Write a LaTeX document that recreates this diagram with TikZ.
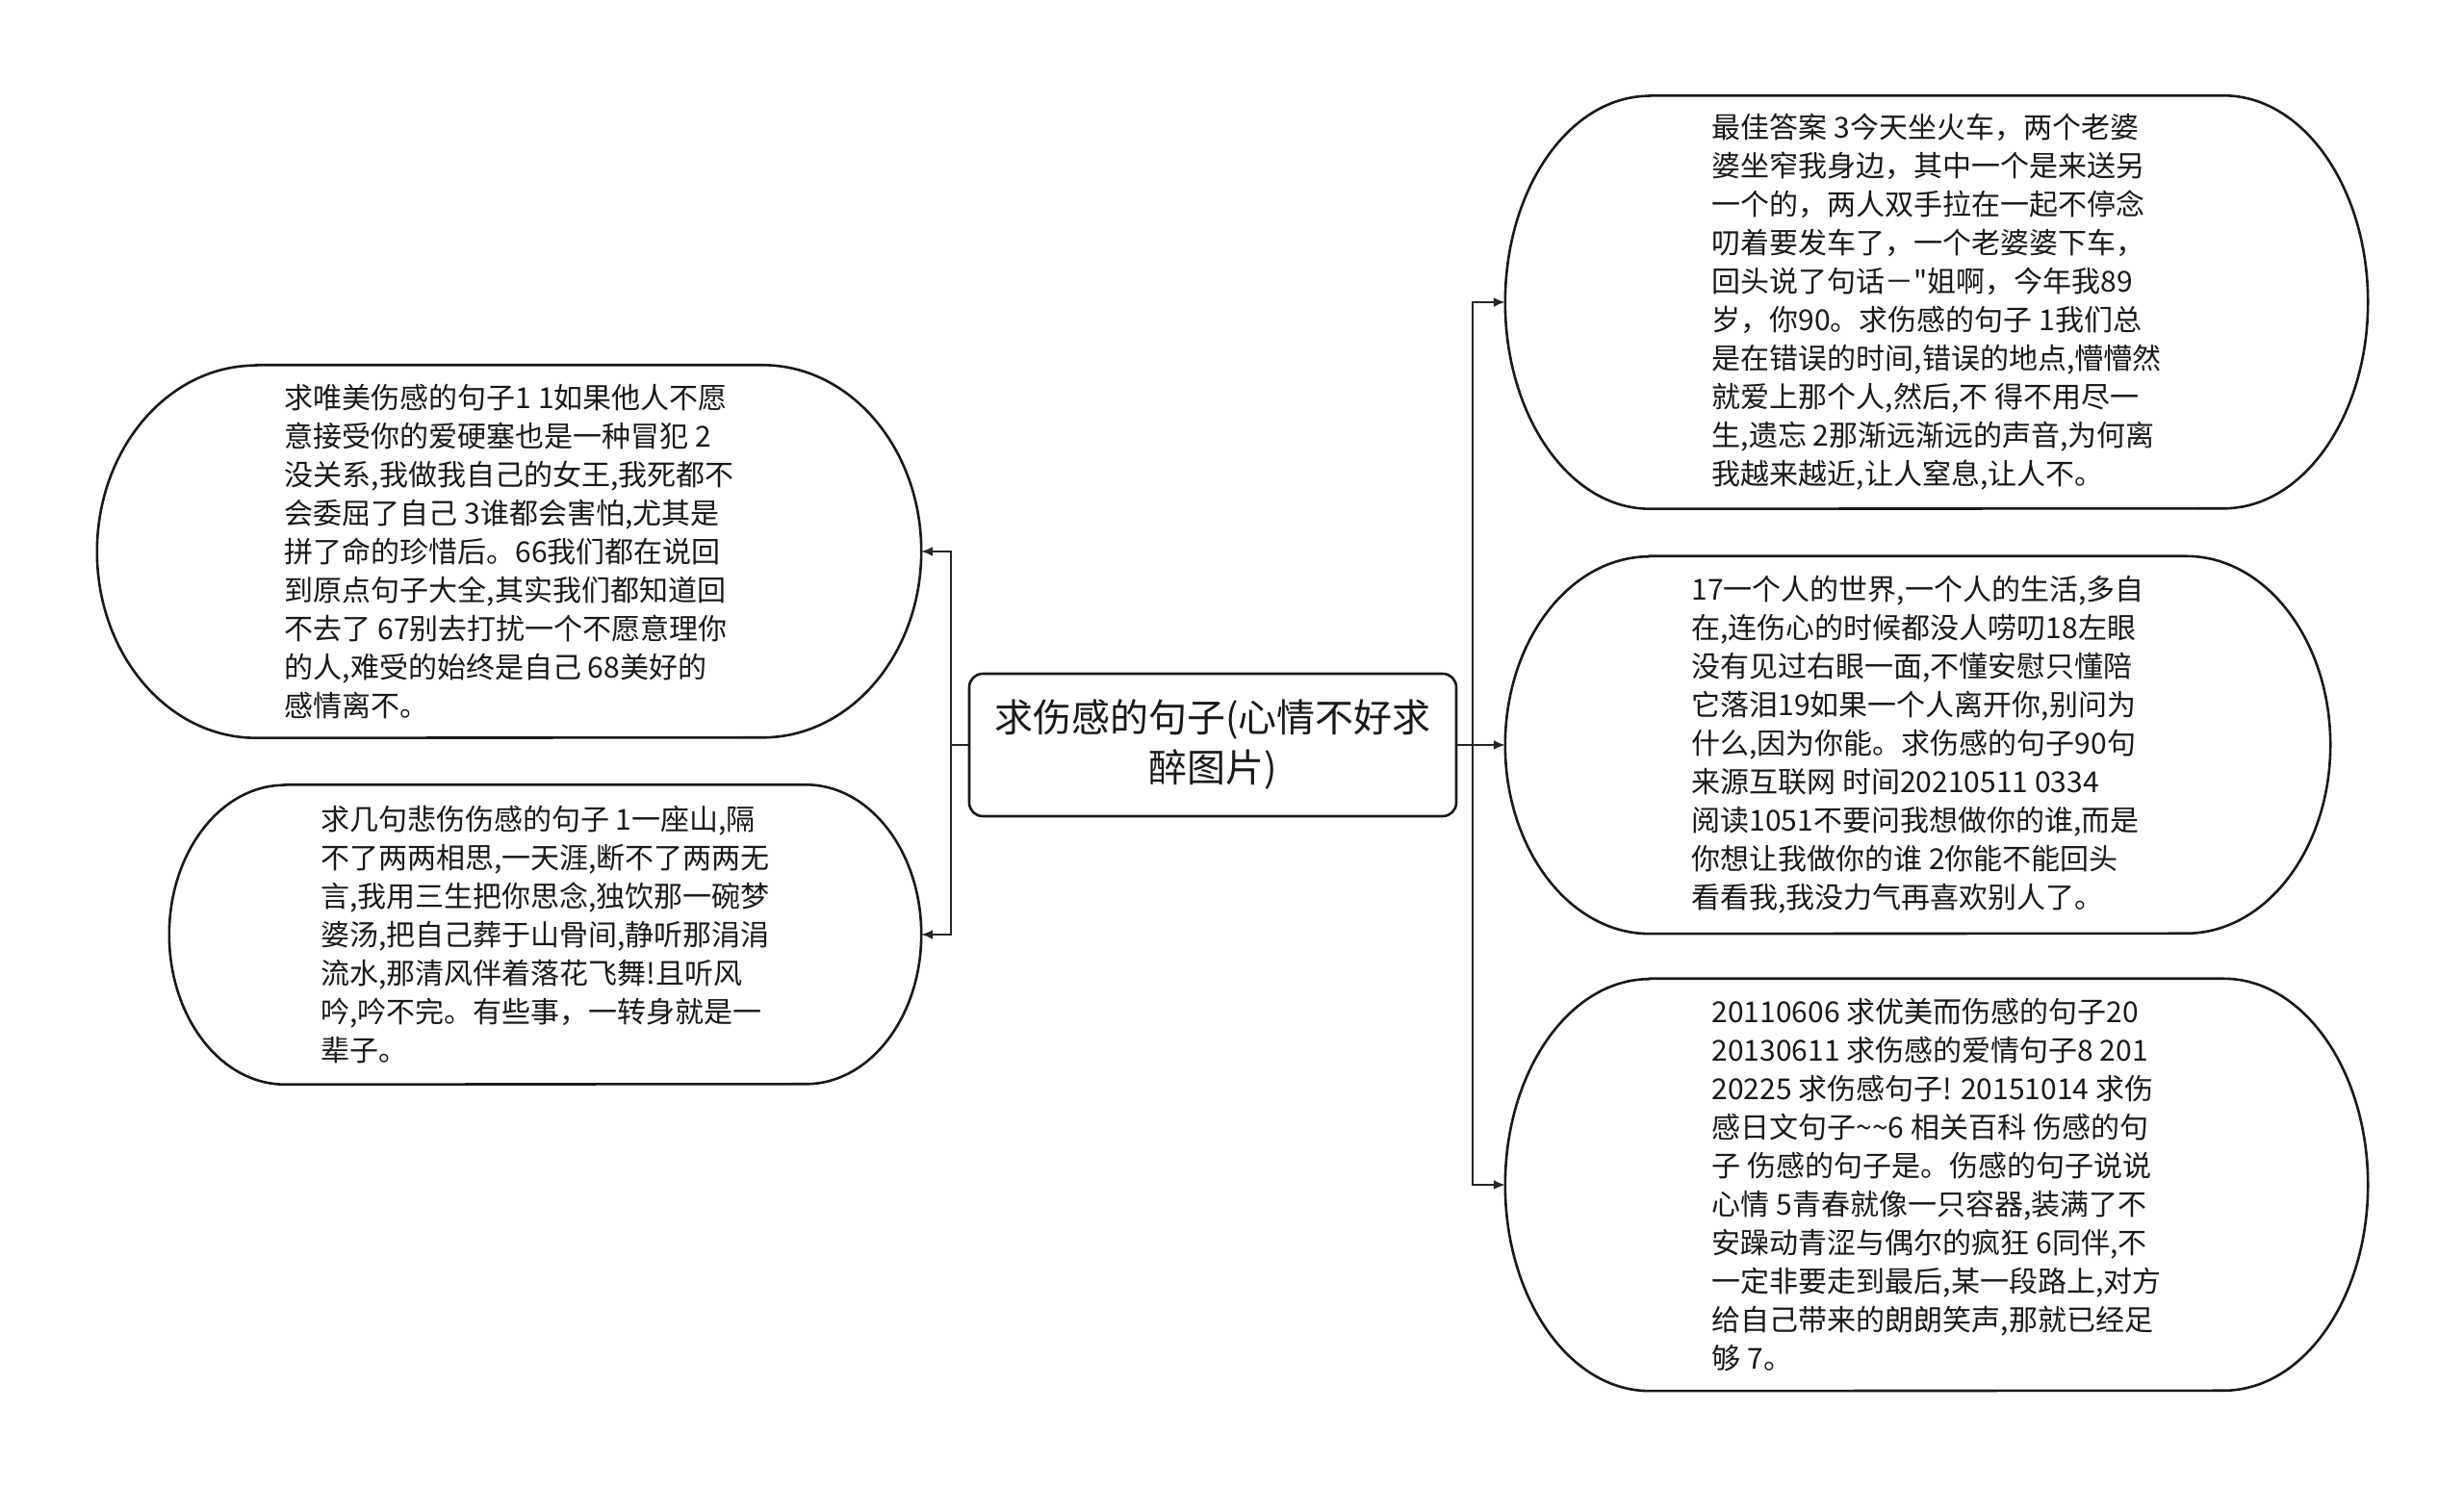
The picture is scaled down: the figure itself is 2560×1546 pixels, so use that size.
\documentclass[tikz,border=0pt]{standalone}
\usepackage{fontspec}
\setmainfont{Noto Sans CJK SC}[Ligatures=TeXOff]
\usetikzlibrary{arrows.meta,calc}
\tikzset{
 blobtext/.style={inner sep=0pt, align=left, font=\fontsize{30}{40}\selectfont, text=black!90},
 blobline/.style={line width=2.6pt, draw=black!90},
 centerbox/.style={draw=black!90, line width=2.6pt, rounded corners=14pt, align=center, font=\fontsize{40}{52}\selectfont, inner sep=0pt, text=black!90},
 conn/.style={line width=2pt, draw=black!85},
 arr/.style={conn, -{Latex[length=12pt,width=10pt]}},
}
\newcommand\blobshape[3]{%
 \draw[blobline] ($(#1.north west)+(#2,0)$) -- ($(#1.north east)+(-#2,0)$)
   arc[start angle=90,end angle=-90,x radius=#2,y radius=#3]
   -- ($(#1.south west)+(#2,0)$)
   arc[start angle=270,end angle=90,x radius=#2,y radius=#3] -- cycle;}
\begin{document}
\begin{tikzpicture}[x=1pt,y=1pt]
\fill[white] (0,0) rectangle (2560,1546);
\useasboundingbox (0,0) rectangle (2560,1546);

\node[centerbox, minimum width=506pt, minimum height=148pt] (c) at (1260,772) {求伤感的句子(心情不好求\\醉图片)};

\node[blobtext, minimum width=856pt, minimum height=387pt] (l1) at (529,973) {求唯美伤感的句子1 1如果他人不愿\\意接受你的爱硬塞也是一种冒犯 2\\没关系,我做我自己的女王,我死都不\\会委屈了自己 3谁都会害怕,尤其是\\拼了命的珍惜后。66我们都在说回\\到原点句子大全,其实我们都知道回\\不去了 67别去打扰一个不愿意理你\\的人,难受的始终是自己 68美好的\\感情离不。};
\blobshape{l1}{165}{193.5}

\node[blobtext, minimum width=781pt, minimum height=311pt] (l2) at (566.5,575) {求几句悲伤伤感的句子 1一座山,隔\\不了两两相思,一天涯,断不了两两无\\言,我用三生把你思念,独饮那一碗梦\\婆汤,把自己葬于山骨间,静听那涓涓\\流水,那清风伴着落花飞舞!且听风\\吟,吟不完。有些事，一转身就是一\\辈子。};
\blobshape{l2}{120}{155.5}

\node[blobtext, minimum width=896pt, minimum height=429pt] (r1) at (2012,1232) {最佳答案 3今天坐火车，两个老婆\\婆坐窄我身边，其中一个是来送另\\一个的，两人双手拉在一起不停念\\叨着要发车了，一个老婆婆下车，\\回头说了句话－"姐啊，今年我89\\岁，你90。求伤感的句子 1我们总\\是在错误的时间,错误的地点,懵懵然\\就爱上那个人,然后,不 得不用尽一\\生,遗忘 2那渐远渐远的声音,为何离\\我越来越近,让人窒息,让人不。};
\blobshape{r1}{150}{214.5}

\node[blobtext, minimum width=857pt, minimum height=392pt] (r2) at (1992.5,772) {17一个人的世界,一个人的生活,多自\\在,连伤心的时候都没人唠叨18左眼\\没有见过右眼一面,不懂安慰只懂陪\\它落泪19如果一个人离开你,别问为\\什么,因为你能。求伤感的句子90句\\来源互联网 时间20210511 0334\\阅读1051不要问我想做你的谁,而是\\你想让我做你的谁 2你能不能回头\\看看我,我没力气再喜欢别人了。};
\blobshape{r2}{150}{196}

\node[blobtext, minimum width=896pt, minimum height=428pt] (r3) at (2012,315) {20110606 求优美而伤感的句子20\\20130611 求伤感的爱情句子8 201\\20225 求伤感句子! 20151014 求伤\\感日文句子\textasciitilde\textasciitilde 6 相关百科 伤感的句\\子 伤感的句子是。伤感的句子说说\\心情 5青春就像一只容器,装满了不\\安躁动青涩与偶尔的疯狂 6同伴,不\\一定非要走到最后,某一段路上,对方\\给自己带来的朗朗笑声,那就已经足\\够 7。};
\blobshape{r3}{150}{214}

\coordinate (lj) at (988,772);
\coordinate (rj) at (1530,772);
\draw[conn] (c.west) -- (lj);
\draw[arr] (lj) |- (l1.east);
\draw[arr] (lj) |- (l2.east);
\draw[conn] (c.east) -- (rj);
\draw[arr] (rj) |- (r1.west);
\draw[arr] (rj) -- (r2.west);
\draw[arr] (rj) |- (r3.west);
\end{tikzpicture}
\end{document}
